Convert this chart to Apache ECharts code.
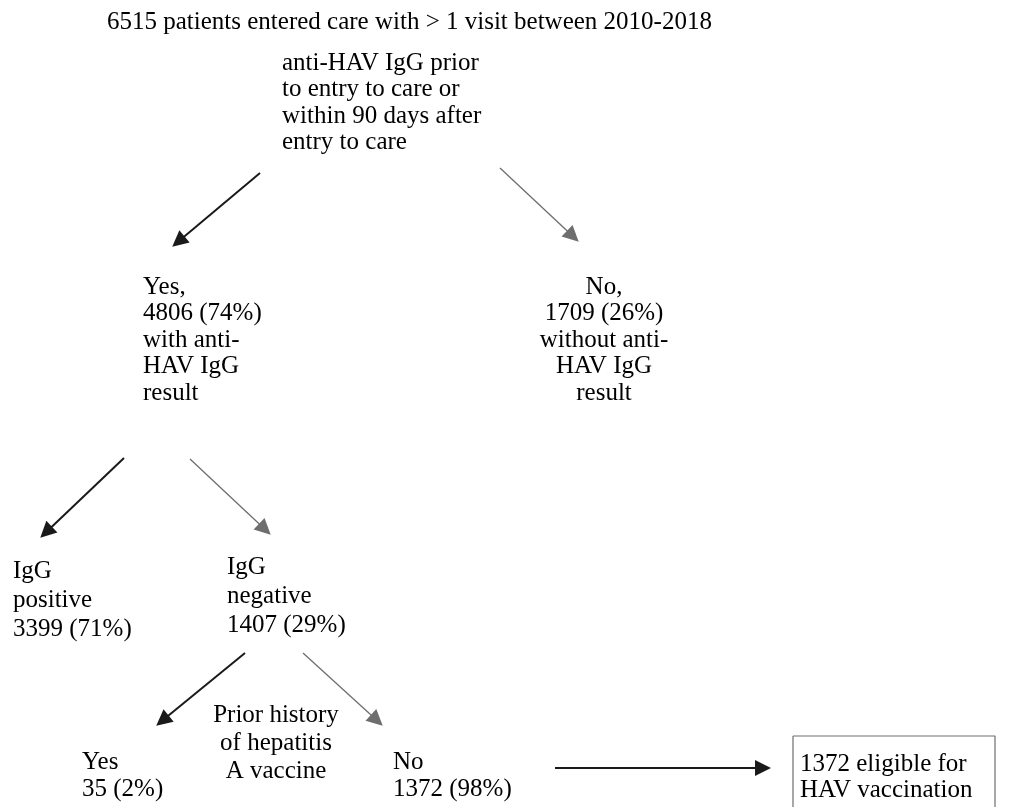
<!DOCTYPE html>
<html>
<head>
<meta charset="utf-8">
<script src="https://cdn.jsdelivr.net/npm/echarts@6/dist/echarts.min.js"></script>
<style>
html,body{margin:0;padding:0;background:#fff;}
#chart{width:1012px;height:807px;}
</style>
</head>
<body>
<div id="chart"></div>
<script>
// ---- content (texts and counts) ----
const titleLines = ['6515 patients entered care with > 1 visit between 2010-2018'];
const question1Lines = ['anti-HAV IgG prior', 'to entry to care or', 'within 90 days after', 'entry to care'];
const yesResultLines = ['Yes,', '4806 (74%)', 'with anti-', 'HAV IgG', 'result'];
const noResultLines = ['No,', '1709 (26%)', 'without anti-', 'HAV IgG', 'result'];
const igPositiveLines = ['IgG', 'positive', '3399 (71%)'];
const igNegativeLines = ['IgG', 'negative', '1407 (29%)'];
const question2Lines = ['Prior history', 'of hepatitis', 'A vaccine'];
const vaccYesLines = ['Yes', '35 (2%)'];
const vaccNoLines = ['No', '1372 (98%)'];
const eligibleLines = ['1372 eligible for', 'HAV vaccination'];

// ---- layout (page coordinates on hidden 0..1012 x 0..807 axes) ----
const blocks = [
  {lines: titleLines,     x: 107, y: 22,  align: 'left',   lh: 28},
  {lines: question1Lines, x: 282, y: 63,  align: 'left',   lh: 26.5},
  {lines: yesResultLines, x: 143, y: 287, align: 'left',   lh: 26.5},
  {lines: noResultLines,  x: 604, y: 287, align: 'center', lh: 26.5},
  {lines: igPositiveLines,x: 13,  y: 571, align: 'left',   lh: 29},
  {lines: igNegativeLines,x: 227, y: 567, align: 'left',   lh: 29},
  {lines: question2Lines, x: 276, y: 715, align: 'center', lh: 28},
  {lines: vaccYesLines,   x: 82,  y: 762, align: 'left',   lh: 27},
  {lines: vaccNoLines,    x: 393, y: 762, align: 'left',   lh: 27},
  {lines: eligibleLines,  x: 800, y: 764, align: 'left',   lh: 26}
];
// arrows: [fromX, fromY, toX, toY, style]
const arrows = [
  [260, 173, 173, 246, 'dark'],
  [500, 168, 578, 241, 'light'],
  [124, 458, 41, 537, 'dark'],
  [190, 459, 270, 534, 'light'],
  [245, 653, 157, 725, 'dark'],
  [303, 653, 382, 725, 'light'],
  [555, 768, 770, 768, 'dark']
];
const boxCorners = [[793, 736], [995, 736], [995, 830], [793, 830], [793, 736]];

const textColor = '#000000';
const fontFamily = '"Liberation Serif", "Times New Roman", serif';

const textData = [];
blocks.forEach(b => {
  b.lines.forEach((t, i) => {
    textData.push({
      value: [b.x, b.y + i * b.lh],
      label: {formatter: t, align: b.align}
    });
  });
});

function arrowItem(a) {
  const dark = a[4] === 'dark';
  const dx = a[2] - a[0], dy = a[3] - a[1];
  const len = Math.sqrt(dx * dx + dy * dy);
  const head = 7;
  const col = dark ? '#1a1a1a' : '#6e6e6e';
  return {
    coords: [[a[0], a[1]], [a[2] - dx / len * head, a[3] - dy / len * head]],
    lineStyle: {color: col, width: dark ? 2 : 1.3, opacity: 1},
    itemStyle: {color: col}
  };
}

const chart = echarts.init(document.getElementById('chart'), null, {renderer: 'canvas'});
chart.setOption({
  backgroundColor: '#ffffff',
  animation: false,
  grid: {left: 0, right: 0, top: 0, bottom: 0},
  xAxis: {type: 'value', min: 0, max: 1012, show: false},
  yAxis: {type: 'value', min: 0, max: 807, inverse: true, show: false},
  series: [
    {
      type: 'line',
      data: boxCorners,
      symbol: 'none',
      lineStyle: {color: '#6e6e6e', width: 1.2},
      silent: true,
      z: 1
    },
    {
      type: 'lines',
      coordinateSystem: 'cartesian2d',
      symbol: ['none', 'triangle'],
      symbolSize: [11, 16],
      lineStyle: {opacity: 1},
      data: arrows.map(arrowItem),
      silent: true,
      z: 2
    },
    {
      type: 'scatter',
      symbolSize: 0,
      data: textData,
      silent: true,
      z: 3,
      itemStyle: {opacity: 1},
      label: {
        show: true,
        position: 'inside',
        verticalAlign: 'middle',
        color: textColor,
        opacity: 1,
        fontFamily: fontFamily,
        fontSize: 25
      }
    }
  ]
});
</script>
</body>
</html>
